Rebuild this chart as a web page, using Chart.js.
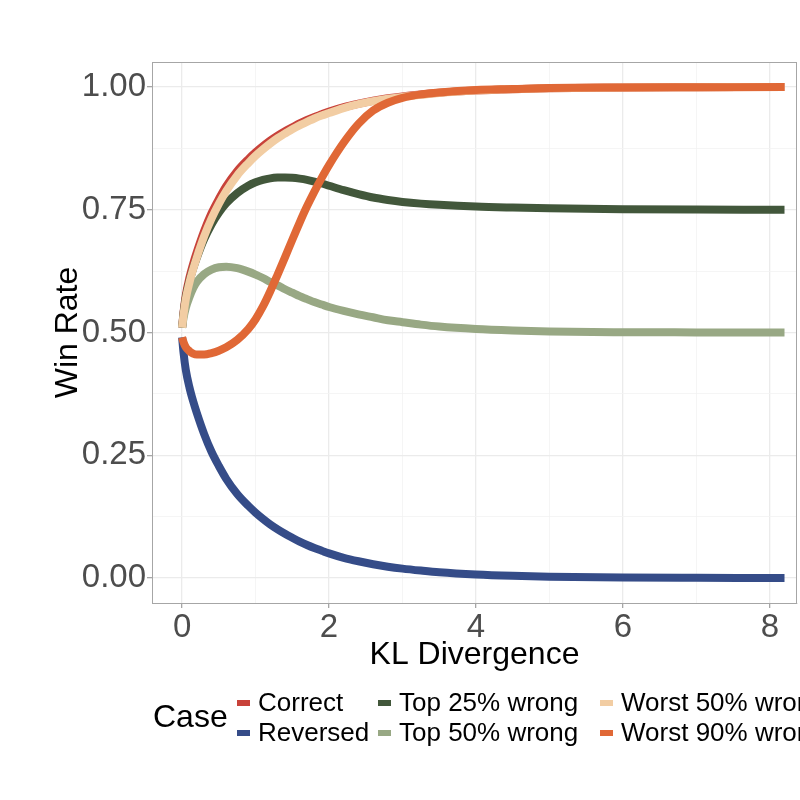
<!DOCTYPE html>
<html>
<head>
<meta charset="utf-8">
<script src="https://cdn.jsdelivr.net/npm/chart.js@4/dist/chart.umd.min.js"></script>
<style>
  body { margin: 0; background: #fff; }
</style>
</head>
<body>
<canvas id="WinRateChart" width="800" height="800"></canvas>
<script>
// KL divergence sample points (x axis)
const kl = [0, 0.02, 0.05, 0.1, 0.15, 0.2, 0.3, 0.4, 0.5, 0.6, 0.75, 0.9, 1.0, 1.1, 1.2, 1.3, 1.4, 1.5,
    1.6, 1.7, 1.8, 1.9, 2.0, 2.2, 2.4, 2.6, 2.8, 3.0, 3.25, 3.5, 4.0, 4.5, 5.0, 6.0, 7.0, 8.2];

// win rate, one array per case
const correct = [0.51, 0.542, 0.576, 0.612, 0.64, 0.664, 0.707, 0.743, 0.772, 0.798, 0.829, 0.853, 0.867, 0.8795,
    0.891, 0.901, 0.910, 0.918, 0.926, 0.933, 0.939, 0.9445, 0.950, 0.959, 0.966, 0.972, 0.977, 0.981, 0.985,
    0.9885, 0.993, 0.9957, 0.9974, 0.9991, 0.9997, 1.0];
const reversed = [0.49, 0.458, 0.424, 0.388, 0.36, 0.336, 0.293, 0.257, 0.228, 0.202, 0.171, 0.147, 0.133, 0.1205,
    0.109, 0.099, 0.090, 0.0818, 0.074, 0.0672, 0.061, 0.0555, 0.050, 0.041, 0.034, 0.028, 0.023, 0.019, 0.015,
    0.0115, 0.007, 0.0043, 0.0026, 0.0009, 0.0003, 0.0];
const top25 = [0.51, 0.54, 0.571, 0.604, 0.63, 0.652, 0.69, 0.72, 0.744, 0.763, 0.784, 0.799, 0.806, 0.811,
    0.814, 0.8155, 0.8158, 0.8152, 0.8135, 0.811, 0.8075, 0.8035, 0.799, 0.79, 0.782, 0.775, 0.770, 0.766, 0.7625,
    0.760, 0.7565, 0.7545, 0.753, 0.7512, 0.7504, 0.75];
const top50 = [0.51, 0.53, 0.55, 0.572, 0.59, 0.603, 0.619, 0.628, 0.633, 0.634, 0.631, 0.624, 0.618, 0.611,
    0.603, 0.596, 0.588, 0.581, 0.574, 0.568, 0.562, 0.557, 0.552, 0.544, 0.537, 0.531, 0.525, 0.521, 0.516,
    0.512, 0.507, 0.504, 0.502, 0.5006, 0.5002, 0.5];
const worst50 = [0.51, 0.537, 0.568, 0.602, 0.629, 0.653, 0.696, 0.732, 0.762, 0.788, 0.82, 0.845, 0.86, 0.873,
    0.885, 0.896, 0.905, 0.914, 0.922, 0.929, 0.936, 0.942, 0.947, 0.957, 0.965, 0.971, 0.976, 0.98, 0.984,
    0.988, 0.993, 0.9957, 0.9974, 0.9991, 0.9997, 1.0];
const worst90 = [0.49, 0.48, 0.47, 0.462, 0.457, 0.455, 0.455, 0.458, 0.463, 0.470, 0.485, 0.507, 0.527, 0.553,
    0.584, 0.618, 0.653, 0.689, 0.724, 0.757, 0.787, 0.815, 0.841, 0.887, 0.925, 0.952, 0.968, 0.978, 0.985,
    0.989, 0.994, 0.996, 0.998, 0.999, 0.9995, 1.0];

const caseNames = ['Correct', 'Reversed', 'Top 25% wrong', 'Top 50% wrong', 'Worst 50% wrong', 'Worst 90% wrong'];
const caseValues = [correct, reversed, top25, top50, worst50, worst90];
const caseColors = ['#C8423A', '#354C88', '#42573B', '#98A884', '#F2CDA3', '#E06836'];

const yTicks = [0, 0.25, 0.5, 0.75, 1.0];
const xTicks = [0, 2, 4, 6, 8];

const datasets = caseNames.map((name, i) => ({
    label: name,
    data: kl.map((k, j) => ({x: k, y: caseValues[i][j]})),
    borderColor: caseColors[i],
    backgroundColor: caseColors[i],
    borderWidth: 8,
    pointRadius: 0,
    fill: false,
    cubicInterpolationMode: 'monotone',
    order: caseNames.length - i   // later cases drawn on top, like ggplot
}));

const isMajor = (v, list) => list.some(t => Math.abs(t - v) < 1e-6);

// panel border on all four sides + ggplot style legend underneath
const panelAndLegend = {
    id: 'panelAndLegend',
    afterDraw(chart) {
        const {ctx, chartArea} = chart;
        ctx.save();
        ctx.strokeStyle = '#A6A6A6';
        ctx.lineWidth = 1;
        ctx.strokeRect(chartArea.left + 0.5, chartArea.top + 0.5,
            chartArea.right - chartArea.left - 1, chartArea.bottom - chartArea.top);

        ctx.fillStyle = '#000';
        ctx.textBaseline = 'middle';
        ctx.font = '32px "Liberation Sans", Arial, sans-serif';
        ctx.fillText('Case', 153, 718);

        const colX = [237, 378, 600];
        const rowY = [703, 733];
        ctx.font = '26px "Liberation Sans", Arial, sans-serif';
        caseNames.forEach((name, i) => {
            const col = Math.floor(i / 2), row = i % 2;
            ctx.fillStyle = caseColors[i];
            ctx.fillRect(colX[col], rowY[row] - 3, 13, 6);
            ctx.fillStyle = '#000';
            ctx.fillText(name, colX[col] + 21, rowY[row] + 1);
        });
        ctx.restore();
    }
};

const config = {
    type: 'line',
    data: {datasets: datasets},
    options: {
        responsive: false,
        animation: false,
        layout: {padding: {top: 62, right: 3, left: 0, bottom: 126}},
        plugins: {
            legend: {display: false},
            tooltip: {enabled: false}
        },
        scales: {
            x: {
                type: 'linear',
                min: -0.41,
                max: 8.37,
                afterFit: scale => { scale.height = 71; },
                ticks: {
                    stepSize: 1,
                    autoSkip: false,
                    maxRotation: 0,
                    includeBounds: false,
                    padding: 0,
                    color: '#4D4D4D',
                    font: {size: 33, family: '"Liberation Sans", Arial, sans-serif'},
                    callback: v => isMajor(v, xTicks) ? String(v) : ''
                },
                grid: {
                    color: c => isMajor(c.tick.value, xTicks) ? '#EBEBEB' : '#F3F3F3',
                    lineWidth: c => isMajor(c.tick.value, xTicks) ? 1.3 : 0.8,
                    tickColor: c => isMajor(c.tick.value, xTicks) ? '#A6A6A6' : 'rgba(0,0,0,0)',
                    tickLength: 5
                },
                border: {color: '#A6A6A6'},
                title: {
                    display: true,
                    text: 'KL Divergence',
                    color: '#000',
                    padding: 0,
                    font: {size: 32, family: '"Liberation Sans", Arial, sans-serif'}
                }
            },
            y: {
                min: -0.051,
                max: 1.051,
                afterFit: scale => { scale.width = 152; },
                ticks: {
                    stepSize: 0.125,
                    autoSkip: false,
                    includeBounds: false,
                    padding: 1,
                    color: '#4D4D4D',
                    font: {size: 33, family: '"Liberation Sans", Arial, sans-serif'},
                    callback: v => isMajor(v, yTicks) ? v.toFixed(2) : ''
                },
                grid: {
                    color: c => isMajor(c.tick.value, yTicks) ? '#EBEBEB' : '#F3F3F3',
                    lineWidth: c => isMajor(c.tick.value, yTicks) ? 1.3 : 0.8,
                    tickColor: c => isMajor(c.tick.value, yTicks) ? '#A6A6A6' : 'rgba(0,0,0,0)',
                    tickLength: 5
                },
                border: {color: '#A6A6A6'},
                title: {
                    display: true,
                    text: 'Win Rate',
                    color: '#000',
                    padding: {top: 49, bottom: 0},
                    font: {size: 32, family: '"Liberation Sans", Arial, sans-serif'}
                }
            }
        }
    },
    plugins: [panelAndLegend]
};

const WinRateChart = new Chart(
    document.getElementById('WinRateChart'),
    config
);
</script>
</body>
</html>
